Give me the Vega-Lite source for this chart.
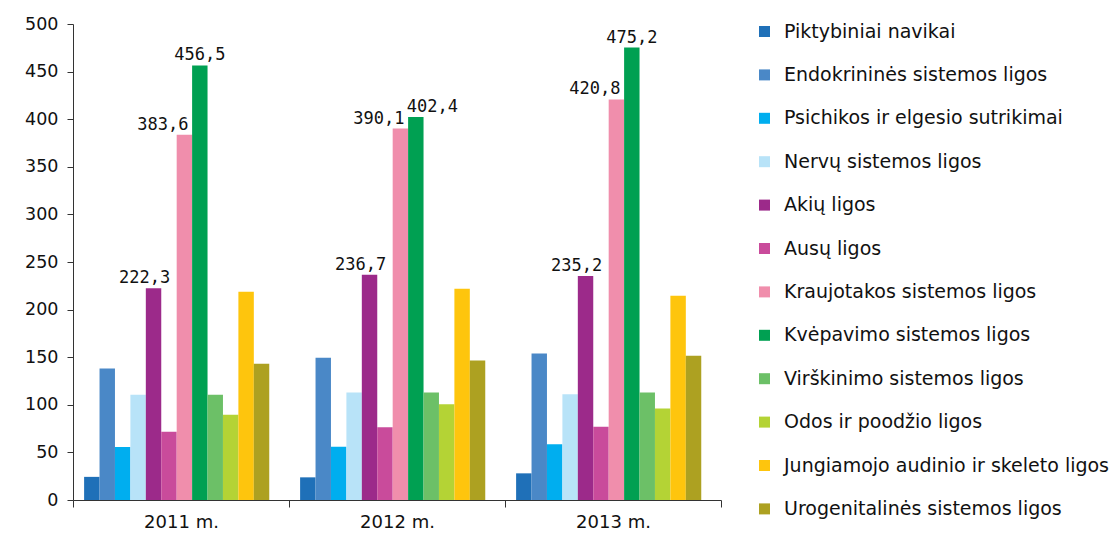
{
  "$schema": "https://vega.github.io/schema/vega-lite/v6.json",
  "autosize": {"type": "none"},
  "padding": {"left": 73, "top": 24, "right": 394, "bottom": 41},
  "width": 648,
  "height": 476,
  "background": "#ffffff",
  "config": {
    "view": {"stroke": null},
    "font": "DejaVu Sans",
    "locale": {"number": {"decimal": ",", "thousands": " ", "grouping": [3], "currency": ["", " €"]}}
  },
  "data": {
    "values": [
      {"year": "2011 m.", "series": "Piktybiniai navikai", "value": 24.3},
      {"year": "2011 m.", "series": "Endokrininės sistemos ligos", "value": 138},
      {"year": "2011 m.", "series": "Psichikos ir elgesio sutrikimai", "value": 55.8},
      {"year": "2011 m.", "series": "Nervų sistemos ligos", "value": 110.5},
      {"year": "2011 m.", "series": "Akių ligos", "value": 222.3},
      {"year": "2011 m.", "series": "Ausų ligos", "value": 71.7},
      {"year": "2011 m.", "series": "Kraujotakos sistemos ligos", "value": 383.6},
      {"year": "2011 m.", "series": "Kvėpavimo sistemos ligos", "value": 456.5},
      {"year": "2011 m.", "series": "Virškinimo sistemos ligos", "value": 110.5},
      {"year": "2011 m.", "series": "Odos ir poodžio ligos", "value": 89.5},
      {"year": "2011 m.", "series": "Jungiamojo audinio ir skeleto ligos", "value": 218.8},
      {"year": "2011 m.", "series": "Urogenitalinės sistemos ligos", "value": 143.1},
      {"year": "2012 m.", "series": "Piktybiniai navikai", "value": 23.8},
      {"year": "2012 m.", "series": "Endokrininės sistemos ligos", "value": 149.5},
      {"year": "2012 m.", "series": "Psichikos ir elgesio sutrikimai", "value": 56},
      {"year": "2012 m.", "series": "Nervų sistemos ligos", "value": 113},
      {"year": "2012 m.", "series": "Akių ligos", "value": 236.7},
      {"year": "2012 m.", "series": "Ausų ligos", "value": 76.5},
      {"year": "2012 m.", "series": "Kraujotakos sistemos ligos", "value": 390.1},
      {"year": "2012 m.", "series": "Kvėpavimo sistemos ligos", "value": 402.4},
      {"year": "2012 m.", "series": "Virškinimo sistemos ligos", "value": 113},
      {"year": "2012 m.", "series": "Odos ir poodžio ligos", "value": 100.5},
      {"year": "2012 m.", "series": "Jungiamojo audinio ir skeleto ligos", "value": 221.8},
      {"year": "2012 m.", "series": "Urogenitalinės sistemos ligos", "value": 146.5},
      {"year": "2013 m.", "series": "Piktybiniai navikai", "value": 28},
      {"year": "2013 m.", "series": "Endokrininės sistemos ligos", "value": 153.8},
      {"year": "2013 m.", "series": "Psichikos ir elgesio sutrikimai", "value": 58.5},
      {"year": "2013 m.", "series": "Nervų sistemos ligos", "value": 111},
      {"year": "2013 m.", "series": "Akių ligos", "value": 235.2},
      {"year": "2013 m.", "series": "Ausų ligos", "value": 77},
      {"year": "2013 m.", "series": "Kraujotakos sistemos ligos", "value": 420.8},
      {"year": "2013 m.", "series": "Kvėpavimo sistemos ligos", "value": 475.2},
      {"year": "2013 m.", "series": "Virškinimo sistemos ligos", "value": 113},
      {"year": "2013 m.", "series": "Odos ir poodžio ligos", "value": 96},
      {"year": "2013 m.", "series": "Jungiamojo audinio ir skeleto ligos", "value": 214.5},
      {"year": "2013 m.", "series": "Urogenitalinės sistemos ligos", "value": 151.5}
    ]
  },
  "encoding": {
    "x": {
      "field": "year", "type": "nominal", "title": null,
      "scale": {"paddingInner": 0, "paddingOuter": 0},
      "axis": {"labelAngle": 0, "tickBand": "extent", "tickSize": 7, "tickColor": "#333333", "domainColor": "#333333", "labelFontSize": 18, "labelColor": "#111111", "labelPadding": 6, "labelFont": "DejaVu Sans"}
    },
    "xOffset": {
      "field": "series", "type": "nominal",
      "scale": {"paddingInner": 0, "paddingOuter": 1.1, "align": 0.36,
        "domain": ["Piktybiniai navikai", "Endokrininės sistemos ligos", "Psichikos ir elgesio sutrikimai", "Nervų sistemos ligos", "Akių ligos", "Ausų ligos", "Kraujotakos sistemos ligos", "Kvėpavimo sistemos ligos", "Virškinimo sistemos ligos", "Odos ir poodžio ligos", "Jungiamojo audinio ir skeleto ligos", "Urogenitalinės sistemos ligos"]}
    },
    "y": {
      "field": "value", "type": "quantitative", "title": null,
      "scale": {"domain": [0, 500], "nice": false},
      "axis": {"values": [0, 50, 100, 150, 200, 250, 300, 350, 400, 450, 500], "grid": false, "tickSize": 6, "tickColor": "#333333", "domainColor": "#333333", "labelFontSize": 17.5, "labelColor": "#111111", "labelPadding": 9, "labelFont": "DejaVu Sans"}
    }
  },
  "layer": [
    {
      "mark": {"type": "bar", "stroke": null},
      "encoding": {
        "color": {
          "field": "series", "type": "nominal", "title": null,
          "scale": {
            "domain": ["Piktybiniai navikai", "Endokrininės sistemos ligos", "Psichikos ir elgesio sutrikimai", "Nervų sistemos ligos", "Akių ligos", "Ausų ligos", "Kraujotakos sistemos ligos", "Kvėpavimo sistemos ligos", "Virškinimo sistemos ligos", "Odos ir poodžio ligos", "Jungiamojo audinio ir skeleto ligos", "Urogenitalinės sistemos ligos"],
            "range": ["#1F70B8", "#4A88C7", "#00AEEF", "#B8E3F8", "#9C2A8A", "#C94B9B", "#F08EAC", "#00A052", "#6CC067", "#B4D335", "#FEC50D", "#ADA121"]
          },
          "legend": {
            "orient": "none", "legendX": 682, "legendY": -2, "padding": 0,
            "symbolType": "square", "symbolSize": 121, "symbolStrokeWidth": 0, "symbolOpacity": 1,
            "labelFontSize": 19, "labelFont": "DejaVu Sans", "labelColor": "#111111", "labelOffset": 10, "labelLimit": 400,
            "rowPadding": 23.4
          }
        }
      }
    },
    {
      "transform": [{"filter": "datum.series === 'Akių ligos'"}],
      "mark": {"type": "text", "font": "DejaVu Sans Mono", "fontSize": 17, "color": "#111111", "align": "center", "baseline": "alphabetic", "dx": -9, "dy": -5},
      "encoding": {"text": {"field": "value", "type": "quantitative", "format": ".1f"}}
    },
    {
      "transform": [{"filter": "datum.series === 'Kraujotakos sistemos ligos'"}],
      "mark": {"type": "text", "font": "DejaVu Sans Mono", "fontSize": 17, "color": "#111111", "align": "right", "baseline": "alphabetic", "dx": 4, "dy": -5},
      "encoding": {"text": {"field": "value", "type": "quantitative", "format": ".1f"}}
    },
    {
      "transform": [{"filter": "datum.series === 'Kvėpavimo sistemos ligos' && datum.year !== '2012 m.'"}],
      "mark": {"type": "text", "font": "DejaVu Sans Mono", "fontSize": 17, "color": "#111111", "align": "center", "baseline": "alphabetic", "dy": -5},
      "encoding": {"text": {"field": "value", "type": "quantitative", "format": ".1f"}}
    },
    {
      "transform": [{"filter": "datum.series === 'Kvėpavimo sistemos ligos' && datum.year === '2012 m.'"}],
      "mark": {"type": "text", "font": "DejaVu Sans Mono", "fontSize": 17, "color": "#111111", "align": "left", "baseline": "alphabetic", "dx": -9, "dy": -5},
      "encoding": {"text": {"field": "value", "type": "quantitative", "format": ".1f"}}
    }
  ]
}
